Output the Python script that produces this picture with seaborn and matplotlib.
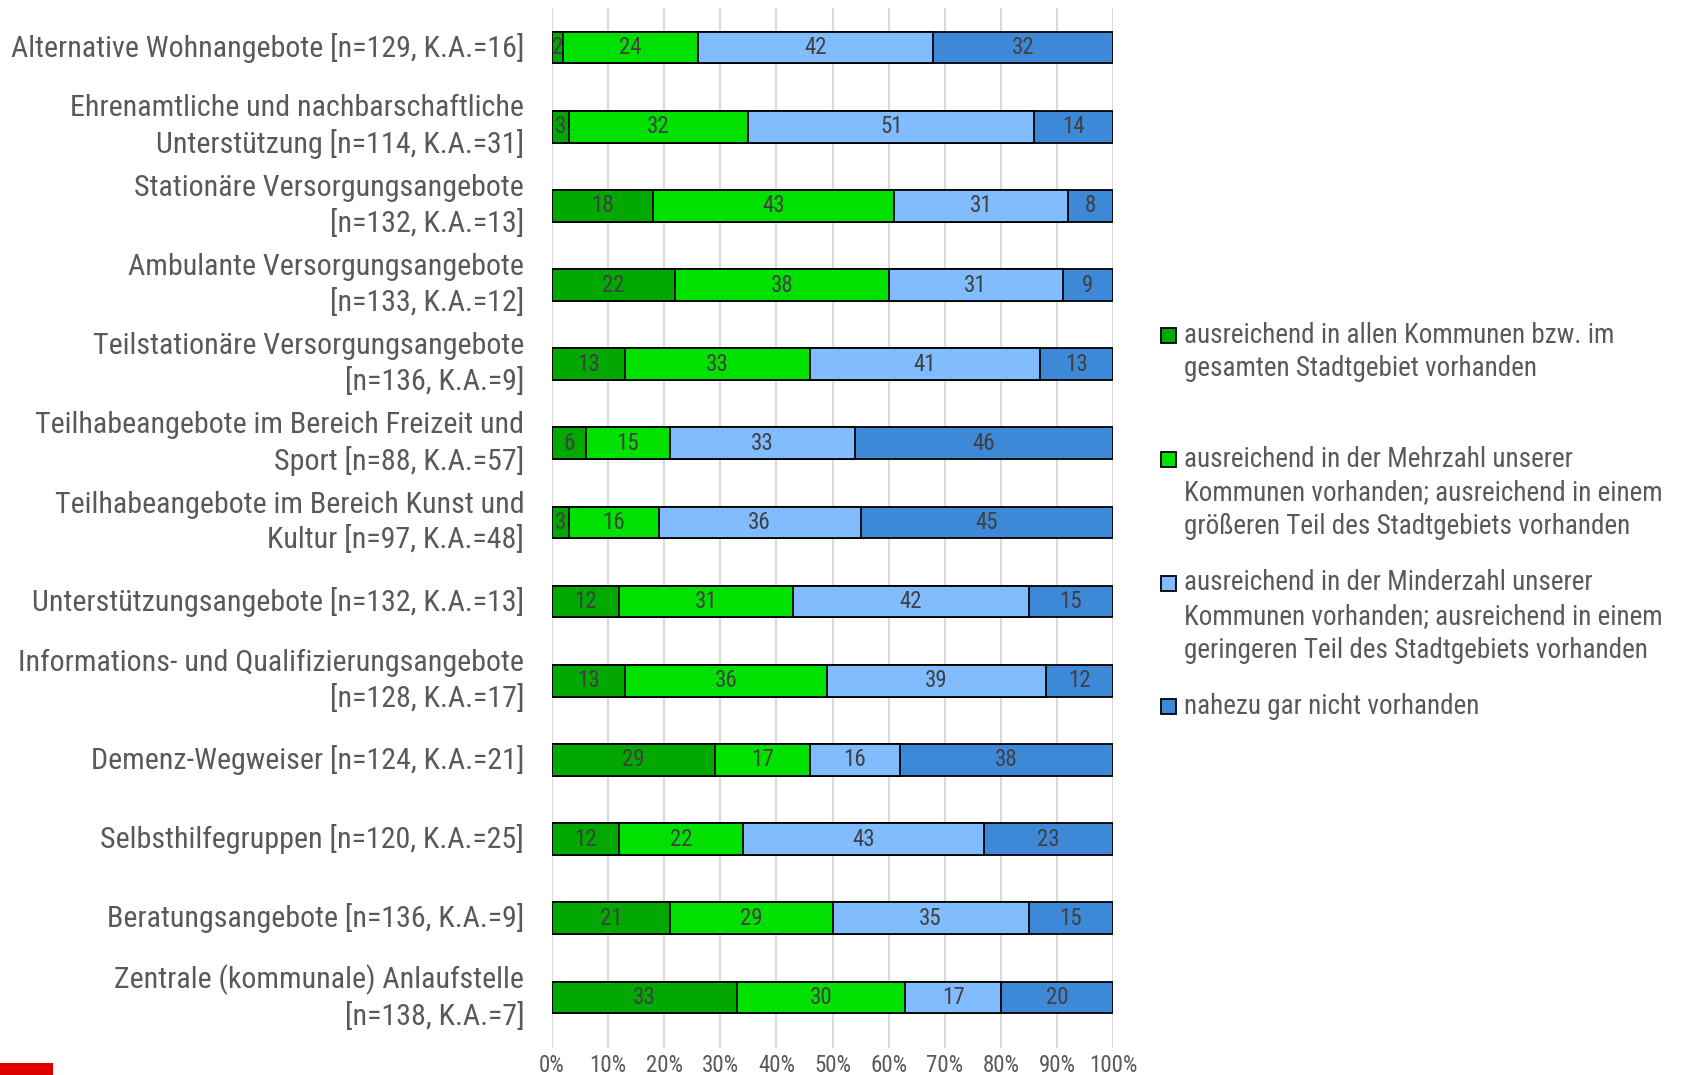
import matplotlib
matplotlib.use("Agg")
import matplotlib.pyplot as plt
from matplotlib.patches import Rectangle
from matplotlib.ticker import FuncFormatter
import numpy as np
import pandas as pd
import seaborn as sns

categories = [
    "Alternative Wohnangebote [n=129, K.A.=16]",
    "Ehrenamtliche und nachbarschaftliche\nUnterstützung [n=114, K.A.=31]",
    "Stationäre Versorgungsangebote\n[n=132, K.A.=13]",
    "Ambulante Versorgungsangebote\n[n=133, K.A.=12]",
    "Teilstationäre Versorgungsangebote\n[n=136, K.A.=9]",
    "Teilhabeangebote im Bereich Freizeit und\nSport [n=88, K.A.=57]",
    "Teilhabeangebote im Bereich Kunst und\nKultur [n=97, K.A.=48]",
    "Unterstützungsangebote [n=132, K.A.=13]",
    "Informations- und Qualifizierungsangebote\n[n=128, K.A.=17]",
    "Demenz-Wegweiser [n=124, K.A.=21]",
    "Selbsthilfegruppen [n=120, K.A.=25]",
    "Beratungsangebote [n=136, K.A.=9]",
    "Zentrale (kommunale) Anlaufstelle\n[n=138, K.A.=7]",
]

alle = [2, 3, 18, 22, 13, 6, 3, 12, 13, 29, 12, 21, 33]
mehrzahl = [24, 32, 43, 38, 33, 15, 16, 31, 36, 17, 22, 29, 30]
minderzahl = [42, 51, 31, 31, 41, 33, 36, 42, 39, 16, 43, 35, 17]
gar_nicht = [32, 14, 8, 9, 13, 46, 45, 15, 12, 38, 23, 15, 20]

series_labels = [
    "ausreichend in allen Kommunen bzw. im\ngesamten Stadtgebiet vorhanden",
    "ausreichend in der Mehrzahl unserer\nKommunen vorhanden; ausreichend in einem\ngrößeren Teil des Stadtgebiets vorhanden",
    "ausreichend in der Minderzahl unserer\nKommunen vorhanden; ausreichend in einem\ngeringeren Teil des Stadtgebiets vorhanden",
    "nahezu gar nicht vorhanden",
]
colors = ["#00A800", "#00E100", "#80BCFF", "#3D89D8"]
x_ticks = list(range(0, 101, 10))

W, H = 1686, 1075
sns.set_theme(style="white")
plt.rcParams["font.family"] = ["Roboto Condensed", "DejaVu Sans"]

series = [alle, mehrzahl, minderzahl, gar_nicht]
values = np.array(series, dtype=float)  # shape (4, n)
cum = np.cumsum(values, axis=0)

fig = plt.figure(figsize=(W / 100, H / 100), dpi=100)
ax_top, ax_bottom = 8, 1048
ax = fig.add_axes([552 / W, 1 - ax_bottom / H, (1113 - 552) / W, (ax_bottom - ax_top) / H])

# Draw cumulative layers from the outermost inwards so each segment keeps its own edges
for k in range(len(series) - 1, -1, -1):
    df = pd.DataFrame({"Kategorie": categories, "Wert": cum[k]})
    sns.barplot(data=df, x="Wert", y="Kategorie", orient="h", color=colors[k],
                saturation=1, width=0.4, edgecolor="black", linewidth=1.3,
                ax=ax, zorder=3)

# Segment value labels
for k in range(len(series)):
    starts = cum[k] - values[k]
    for i in range(len(categories)):
        v = values[k][i]
        ax.text(starts[i] + v / 2, i, f"{int(v)}", ha="center", va="center",
                fontsize=16.5, color="#404040", zorder=4)

ax.set_xlim(0, 100)
ax.set_ylim(len(categories) - 0.36, -0.5)
ax.set_xticks(x_ticks)
ax.xaxis.set_major_formatter(FuncFormatter(lambda v, p: f"{int(v)}%"))
ax.grid(axis="x", color="#D9D9D9", linewidth=1.5, zorder=0)
ax.grid(axis="y", visible=False)
for s in ax.spines.values():
    s.set_visible(False)
ax.set_xlabel("")
ax.set_ylabel("")
ax.tick_params(axis="x", length=0, pad=4, labelsize=16.5, labelcolor="#595959")
ax.tick_params(axis="y", length=0, pad=20, labelsize=21.6, labelcolor="#595959")
for t in ax.get_yticklabels():
    t.set_linespacing(1.3)
    t.set_verticalalignment("center")

# Legend drawn in figure pixel positions
legend_first_lines = [335, 459, 583, 706]
line_step = 33.5
for k, lab in enumerate(series_labels):
    y0 = legend_first_lines[k]
    fig.patches.append(Rectangle(((1161) / W, 1 - (y0 + 8) / H), 15 / W, 15 / H,
                                 transform=fig.transFigure, facecolor=colors[k],
                                 edgecolor="black", linewidth=1.3))
    for j, line in enumerate(lab.split("\n")):
        fig.text(1184 / W, 1 - (y0 + j * line_step) / H, line, ha="left",
                 va="center", fontsize=19.5, color="#595959")

# Corner brand mark
fig.patches.append(Rectangle((0, 0), 53 / W, 12 / H, transform=fig.transFigure,
                             facecolor="#DC0000", edgecolor="none"))

fig.savefig("out.png", dpi=100, facecolor="white")
